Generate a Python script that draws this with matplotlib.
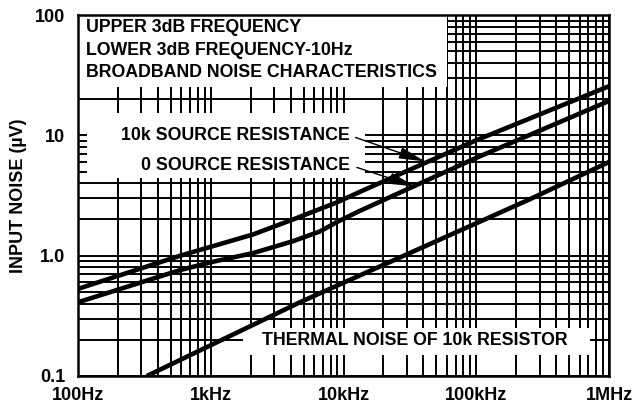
import matplotlib
matplotlib.use("Agg")
import matplotlib.pyplot as plt
from matplotlib.patches import Rectangle
from matplotlib.ticker import LogLocator, NullFormatter

plt.rcParams['font.family'] = ['Liberation Sans', 'DejaVu Sans']
plt.rcParams['font.weight'] = 'bold'

# curve data (Hz, uV)
freq_10k = [100, 590, 1040, 2080, 4170, 8900, 13200, 100000, 1000000]
noise_10k = [0.53, 1.0, 1.2, 1.5, 2.0, 2.77, 3.38, 9.1, 25.6]

freq_0 = [100, 590, 1040, 2080, 4170, 6650, 8900, 13200, 100000, 1000000]
noise_0 = [0.41, 0.76, 0.89, 1.05, 1.32, 1.59, 1.9, 2.35, 6.5, 19.3]

freq_thermal = [330, 4700, 251000, 1000000]
noise_thermal = [0.1, 0.41, 2.93, 6.0]

x_ticks = [1e2, 1e3, 1e4, 1e5, 1e6]
x_labels = ['100Hz', '1kHz', '10kHz', '100kHz', '1MHz']
y_ticks = [0.1, 1, 10, 100]
y_labels = ['0.1', '1.0', '10', '100']

fig = plt.figure(figsize=(6.33, 4.04), dpi=100)
ax = fig.add_axes([78 / 633, 28 / 404, 531 / 633, 361 / 404])
ax.set_xscale('log')
ax.set_yscale('log')
ax.set_xlim(1e2, 1e6)
ax.set_ylim(0.1, 100)

ax.set_xticks(x_ticks)
ax.set_xticklabels(x_labels)
ax.set_yticks(y_ticks)
ax.set_yticklabels(y_labels)
for axis in (ax.xaxis, ax.yaxis):
    axis.set_minor_locator(LogLocator(base=10, subs=range(2, 10)))
    axis.set_minor_formatter(NullFormatter())
ax.tick_params(which='both', length=0, labelsize=13)
ax.tick_params(axis='y', pad=9)
ax.tick_params(axis='x', pad=8)

ax.set_axisbelow(True)
ax.grid(which='both', color='black', lw=1.4)
for s in ax.spines.values():
    s.set_linewidth(1.8)

ax.set_ylabel('INPUT NOISE (\u00b5V)', fontsize=13, fontweight='bold')
ax.yaxis.set_label_coords(-0.096, 0.5)

# white areas behind the labels
for x0, y0, w, h in [(0, 0.80, 0.695, 0.20), (0.017, 0.548, 0.523, 0.181), (0.311, 0.058, 0.653, 0.075)]:
    ax.add_patch(Rectangle((x0, y0), w, h, transform=ax.transAxes, facecolor='white',
                           edgecolor='none', zorder=1))

for f, v in [(freq_10k, noise_10k), (freq_0, noise_0), (freq_thermal, noise_thermal)]:
    ax.plot(f, v, color='black', lw=3.3, zorder=3, solid_capstyle='butt', solid_joinstyle='round')

tk = dict(transform=ax.transAxes, fontsize=12.8, fontweight='bold', va='center', zorder=4)
ax.text(0.015, 0.964, 'UPPER 3dB FREQUENCY', ha='left', **tk)
ax.text(0.015, 0.903, 'LOWER 3dB FREQUENCY-10Hz', ha='left', **tk)
ax.text(0.015, 0.842, 'BROADBAND NOISE CHARACTERISTICS', ha='left', **tk)
ax.text(0.512, 0.665, '10k SOURCE RESISTANCE', ha='right', **tk)
ax.text(0.512, 0.584, '0 SOURCE RESISTANCE', ha='right', **tk)
ax.text(0.347, 0.097, 'THERMAL NOISE OF 10k RESISTOR', ha='left', **tk)

arrow = dict(arrowstyle='-|>,head_length=1.6,head_width=0.35', color='black', lw=1.0, shrinkA=0, shrinkB=0)
ax.annotate('', xy=(41100, 6.07), xytext=(12300, 9.6), arrowprops=arrow, zorder=4)
ax.annotate('', xy=(34600, 3.76), xytext=(12600, 5.41), arrowprops=arrow, zorder=4)

fig.savefig('out.png', dpi=100)
